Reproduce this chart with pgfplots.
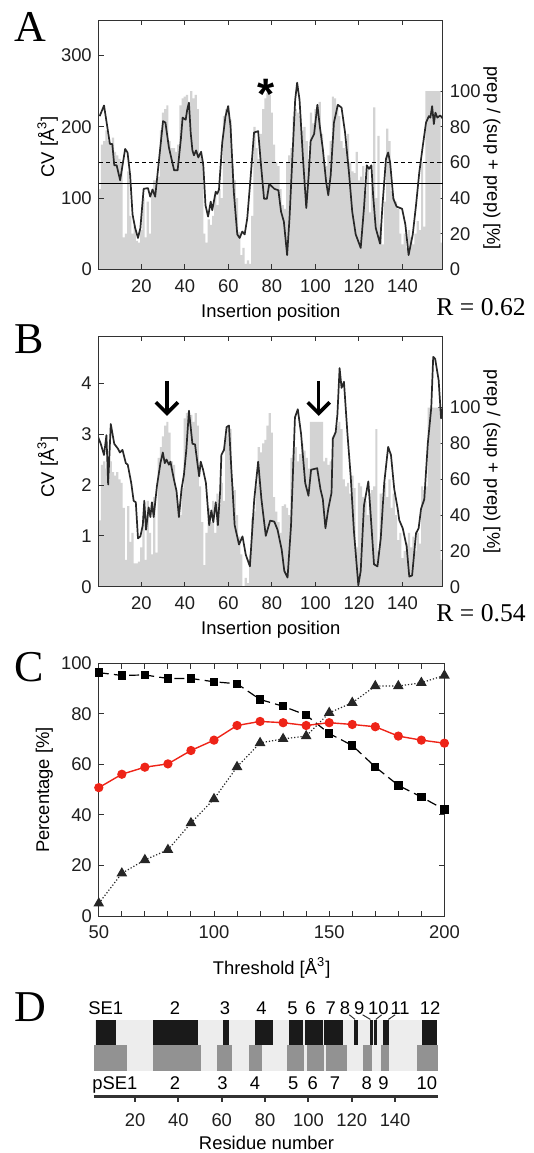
\documentclass[border=0pt]{standalone}
\usepackage{pgfplots}
\pgfplotsset{compat=1.18}
\usepackage{pgfplotstable}
\usepackage{fontspec}
\setmainfont{Liberation Sans}
\newfontfamily\timesfont{Liberation Serif}
\usetikzlibrary{arrows.meta}

\definecolor{bargray}{RGB}{211,211,211}
\definecolor{curve}{RGB}{40,40,40}
\definecolor{frame}{RGB}{50,50,50}
\definecolor{hitred}{RGB}{238,36,24}
\definecolor{segbg}{RGB}{237,237,237}
\definecolor{segdark}{RGB}{26,26,26}
\definecolor{seggray}{RGB}{146,146,146}

\newcommand\lab{\fontsize{9.2}{11}\selectfont}
\newcommand\panel{\fontsize{22}{22}\timesfont}
\newcommand\rval{\fontsize{12.8}{14}\timesfont}

% percentage bars, one value per insertion position 1..158
\pgfplotstableread[row sep=\\]{
p\\
45\\ 70\\ 72\\ 78\\ 72\\ 70\\ 74\\ 66\\ 64\\ 62\\
60\\ 18\\ 20\\ 55\\ 30\\ 20\\ 25\\ 16\\ 15\\ 22\\
40\\ 18\\ 38\\ 20\\ 45\\ 50\\ 50\\ 52\\ 78\\ 88\\
90\\ 92\\ 72\\ 68\\ 68\\ 66\\ 70\\ 92\\ 96\\ 97\\
98\\ 92\\ 100\\ 96\\ 98\\ 90\\ 64\\ 62\\ 20\\ 15\\
28\\ 25\\ 30\\ 42\\ 36\\ 45\\ 40\\ 86\\ 90\\ 92\\
84\\ 58\\ 50\\ 40\\ 21\\ 8\\ 12\\ 3\\ 5\\ 3\\
30\\ 80\\ 68\\ 62\\ 76\\ 90\\ 96\\ 99\\ 98\\ 88\\
70\\ 60\\ 58\\ 45\\ 36\\ 34\\ 60\\ 64\\ 68\\ 86\\
90\\ 88\\ 86\\ 78\\ 80\\ 72\\ 62\\ 88\\ 82\\ 90\\
92\\ 94\\ 76\\ 60\\ 58\\ 64\\ 72\\ 97\\ 96\\ 92\\
86\\ 72\\ 68\\ 70\\ 76\\ 60\\ 55\\ 54\\ 66\\ 50\\
52\\ 58\\ 44\\ 56\\ 32\\ 48\\ 91\\ 40\\ 75\\ 25\\
14\\ 38\\ 79\\ 72\\ 44\\ 40\\ 38\\ 34\\ 20\\ 14\\
20\\ 12\\ 22\\ 18\\ 14\\ 20\\ 27\\ 22\\ 60\\ 24\\
100\\ 100\\ 100\\ 100\\ 100\\ 100\\ 100\\ 15\\
}\barsA

\pgfplotstableread[row sep=\\]{
p\\
37\\ 68\\ 70\\ 66\\ 60\\ 70\\ 64\\ 62\\ 64\\ 60\\
58\\ 44\\ 15\\ 45\\ 25\\ 30\\ 13\\ 13\\ 14\\ 22\\
40\\ 15\\ 48\\ 30\\ 18\\ 50\\ 19\\ 72\\ 78\\ 84\\
90\\ 92\\ 86\\ 70\\ 68\\ 54\\ 44\\ 40\\ 55\\ 94\\
97\\ 95\\ 96\\ 92\\ 97\\ 90\\ 56\\ 36\\ 12\\ 30\\
44\\ 36\\ 48\\ 30\\ 52\\ 46\\ 58\\ 48\\ 84\\ 90\\
88\\ 56\\ 54\\ 40\\ 28\\ 18\\ 0\\ 5\\ 2\\ 18\\
38\\ 42\\ 56\\ 78\\ 75\\ 80\\ 82\\ 90\\ 97\\ 86\\
50\\ 42\\ 36\\ 30\\ 45\\ 46\\ 44\\ 40\\ 72\\ 76\\
78\\ 70\\ 74\\ 80\\ 76\\ 72\\ 66\\ 92\\ 92\\ 92\\
92\\ 92\\ 92\\ 70\\ 72\\ 68\\ 70\\ 84\\ 86\\ 90\\
92\\ 88\\ 60\\ 56\\ 58\\ 52\\ 62\\ 55\\ 22\\ 58\\
56\\ 50\\ 48\\ 40\\ 52\\ 54\\ 56\\ 88\\ 20\\ 52\\
44\\ 58\\ 50\\ 60\\ 44\\ 52\\ 40\\ 26\\ 30\\ 16\\
20\\ 24\\ 30\\ 22\\ 28\\ 20\\ 30\\ 24\\ 56\\ 54\\
56\\ 100\\ 100\\ 100\\ 100\\ 100\\ 100\\ 15\\
}\barsB

% CV profiles
\pgfplotstableread[row sep=\\]{
x y\\
0.9 215\\ 2.9 230\\ 4.8 192\\ 5.6 176\\ 6.7 176\\ 7.6 146\\ 8.7 146\\ 10.3 125\\ 12.6 169\\ 13.7 164\\
14.9 132\\ 16 77\\ 17.2 58\\ 18.5 44\\ 19.6 58\\ 21.1 113\\ 23.1 114\\ 24.1 102\\ 25.2 112\\ 26.4 102\\
27.9 146\\ 30 208\\ 31.1 206\\ 32.7 171\\ 35.1 139\\ 36.7 139\\ 38.2 183\\ 39 213\\ 40.4 210\\ 41.1 224\\
41.9 234\\ 42.7 192\\ 43.5 167\\ 44.2 160\\ 45.2 167\\ 46.2 157\\ 47.5 165\\ 48.5 146\\ 49.5 90\\ 50.7 74\\
51.9 95\\ 52.6 83\\ 54.2 109\\ 54.9 106\\ 55.7 112\\ 57.2 178\\ 58.7 215\\ 59.9 229\\ 61 201\\ 62.5 109\\
64.1 49\\ 65.2 44\\ 66.4 53\\ 67.5 49\\ 68.7 72\\ 70.3 132\\ 71.8 192\\ 73.7 194\\ 74.9 150\\ 76.4 99\\
77.7 99\\ 78.8 120\\ 81.1 113\\ 83 111\\ 84.2 81\\ 85.5 67\\ 87 20\\ 88.1 72\\ 89.6 169\\ 90.7 238\\
91.6 262\\ 92.7 238\\ 94.3 155\\ 95.8 86\\ 96.9 132\\ 97.8 180\\ 99.4 190\\ 100.9 231\\ 102 201\\ 103.4 169\\
104.9 123\\ 105.9 104\\ 107 132\\ 108.5 206\\ 110.3 231\\ 112 227\\ 113.6 192\\ 115.4 136\\ 116.9 81\\ 118.5 49\\
120.8 30\\ 122.3 86\\ 123.6 146\\ 124.6 141\\ 125.7 146\\ 126.5 104\\ 127.7 58\\ 129.7 36\\ 130.8 90\\ 132.4 155\\
133.4 164\\ 134.3 150\\ 135.8 99\\ 137.3 88\\ 139.8 85\\ 141.3 63\\ 142.8 20\\ 144.7 49\\ 146.2 90\\ 147.7 136\\
149.3 173\\ 150.8 206\\ 152.1 215\\ 152.8 213\\ 153.6 229\\ 154.4 204\\ 155.1 220\\ 156 213\\ 157.3 216\\ 158.4 212\\
}\lineA

\pgfplotstableread[row sep=\\]{
x y\\
0.2 2.94\\ 1.4 2.81\\ 2.9 2.59\\ 4 2.98\\ 4.8 2.01\\ 6 3.2\\ 7.6 2.81\\ 9.2 2.72\\ 10.2 2.64\\ 11.4 2.69\\
12.9 2.43\\ 13.8 2.40\\ 15.4 2.04\\ 16.5 1.69\\ 17.5 1.66\\ 18.5 0.95\\ 19.6 0.99\\ 20.7 1.21\\ 21.4 1.69\\ 22.2 1.12\\
23.4 1.56\\ 24.2 1.37\\ 24.9 1.66\\ 25.7 1.37\\ 27.2 1.98\\ 28.8 2.43\\ 29.9 2.64\\ 30.8 2.43\\ 31.6 2.50\\ 32.7 2.40\\
33.4 2.46\\ 35 2.11\\ 36.2 1.88\\ 37.3 1.37\\ 38.5 1.92\\ 39.6 2.20\\ 40.7 2.69\\ 41.9 3.46\\ 42.7 3.14\\ 43.5 2.81\\
44.7 2.80\\ 45.8 2.43\\ 46.6 2.17\\ 47.3 2.46\\ 48.4 2.30\\ 49.7 2.04\\ 51.2 1.21\\ 52.2 1.50\\ 53.1 1.27\\ 54.2 1.66\\
55.2 1.21\\ 56.2 1.85\\ 56.8 2.59\\ 58 2.69\\ 59.2 3.14\\ 60.3 3.17\\ 61.4 2.30\\ 62.9 1.21\\ 64.9 0.83\\ 66.5 0.99\\
68 0.63\\ 69.9 0.40\\ 71.9 1.72\\ 73.7 2.46\\ 75.2 1.72\\ 77.2 1.0\\ 79.2 1.30\\ 81.1 1.28\\ 82.6 1.12\\ 84.5 0.73\\
85.7 0.31\\ 87.2 0.18\\ 88.8 1.21\\ 90.6 3.33\\ 91.9 3.49\\ 93.4 3.01\\ 95.3 2.04\\ 96.8 1.79\\ 98 2.30\\ 100.8 2.33\\
102.3 1.92\\ 103.4 1.72\\ 104.6 1.15\\ 105.9 1.53\\ 107.4 1.85\\ 108 2.91\\ 109.3 3.04\\ 110.1 3.39\\ 111.1 4.30\\ 112 3.91\\
113.1 4.03\\ 114.7 3.01\\ 116.2 2.17\\ 117.7 1.08\\ 119.7 0.03\\ 120.8 0.31\\ 122.3 1.60\\ 124.3 2.07\\ 125.4 1.40\\ 126.9 0.44\\
128.5 0.40\\ 130 0.95\\ 131.6 2.04\\ 133.4 2.75\\ 134.7 2.59\\ 136.2 1.92\\ 137.8 1.53\\ 138.5 1.31\\ 140.1 1.15\\ 141.9 0.79\\
143.1 0.20\\ 144.4 0.22\\ 146.2 1.05\\ 147.4 1.15\\ 148.5 1.53\\ 150 1.72\\ 151.6 2.81\\ 153.2 3.52\\ 154.1 4.52\\ 155 4.48\\
156.6 4.06\\ 157.7 3.31\\ 158.4 3.5\\
}\lineB

% panel C: threshold vs percentages
\pgfplotstableread[row sep=\\]{
t sq ci tr\\
50 96.3 50.8 5.0\\
60 95.2 56.1 16.9\\
70 95.4 58.9 22.2\\
80 94.0 60.2 26.2\\
90 94.0 65.5 36.8\\
100 92.7 69.6 46.3\\
110 91.9 75.4 59.0\\
120 85.7 77.0 68.5\\
130 83.0 76.5 70.1\\
140 79.5 75.4 71.2\\
150 72.2 76.5 80.4\\
160 67.5 75.8 84.4\\
170 59.0 74.9 91.0\\
180 51.7 71.2 91.0\\
190 47.1 69.6 92.3\\
200 42.1 68.4 95.2\\
}\thresh

\pgfplotsset{
  every axis/.append style={
    scale only axis,
    /pgf/number format/assume math mode=true,
    tick label style={font=\lab, text=black!88},
    axis line style={frame, line width=0.5pt},
    tick style={frame, line width=0.5pt},
    major tick length=2.6pt,
    minor tick length=2.6pt,
    tick align=inside,
  },
}

\begin{document}
\begin{tikzpicture}
\useasboundingbox (0,0) rectangle (267pt,-576.5pt);

% ---------------- A ----------------
\begin{axis}[at={(49.4pt,-134.65pt)}, anchor=south west,
  width=172pt, height=124.65pt,
  xmin=0.5, xmax=158.5, ymin=0, ymax=140,
  xtick=\empty, ytick={0,20,...,100},
  ytick pos=right, yticklabel pos=right]
\addplot[ybar, bar width=1, fill=bargray, draw=none]
  table[x expr=\coordindex+1, y=p] {\barsA};
\end{axis}
\begin{axis}[at={(49.4pt,-134.65pt)}, anchor=south west,
  width=172pt, height=124.65pt,
  xmin=0.5, xmax=158.5, ymin=0, ymax=350,
  xtick={20,40,...,140}, xtick pos=both, xticklabel pos=bottom,
  xticklabel style={yshift=-1.5pt},
  ytick={0,100,200,300}, ytick pos=left]
\addplot[black, line width=0.55pt, dash pattern=on 2pt off 1.6pt] coordinates {(0.5,150) (158.5,150)};
\addplot[black, line width=0.55pt] coordinates {(0.5,120) (158.5,120)};
\addplot[curve, line width=0.85pt, line join=round] table[x=x, y=y] {\lineA};
\node[font=\fontsize{22}{22}\selectfont\bfseries] at (axis cs:77.3,245) {*};
\end{axis}
\node[anchor=base west, inner sep=0] at (6.8pt,-20.85pt) {\panel A};
\node[rotate=90, font=\lab] at (23.85pt,-73.35pt) {CV [Å\textsuperscript{3}]};
\node[rotate=-90, font=\lab] at (246pt,-79.15pt) {prep / (sup + prep) [\%]};
\node[anchor=base, font=\lab] at (135.4pt,-158.5pt) {Insertion position};
\node[anchor=base east, inner sep=0] at (263pt,-157.5pt) {\rval R = 0.62};

% ---------------- B ----------------
\begin{axis}[at={(49.4pt,-293.35pt)}, anchor=south west,
  width=172pt, height=125.35pt,
  xmin=0.5, xmax=158.5, ymin=0, ymax=140,
  xtick=\empty, ytick={0,20,...,100},
  ytick pos=right, yticklabel pos=right]
\addplot[ybar, bar width=1, fill=bargray, draw=none]
  table[x expr=\coordindex+1, y=p] {\barsB};
\end{axis}
\begin{axis}[at={(49.4pt,-293.35pt)}, anchor=south west,
  width=172pt, height=125.35pt,
  xmin=0.5, xmax=158.5, ymin=0, ymax=4.93,
  xtick={20,40,...,140}, xtick pos=both, xticklabel pos=bottom,
  xticklabel style={yshift=-1.5pt},
  ytick={0,1,2,3,4}, ytick pos=left]
\addplot[curve, line width=0.85pt, line join=round] table[x=x, y=y] {\lineB};
\draw[black, line width=1.8pt, -{Straight Barb[length=5.5pt, width=11pt]}] (axis cs:31.8,4.05) -- (axis cs:31.8,3.36);
\draw[black, line width=1.8pt, -{Straight Barb[length=5.5pt, width=11pt]}] (axis cs:101.5,4.05) -- (axis cs:101.5,3.36);
\end{axis}
\node[anchor=base west, inner sep=0] at (6.8pt,-176.65pt) {\panel B};
\node[rotate=90, font=\lab] at (23.85pt,-233.35pt) {CV [Å\textsuperscript{3}]};
\node[rotate=-90, font=\lab] at (246pt,-230.85pt) {prep / (sup + prep) [\%]};
\node[anchor=base, font=\lab] at (135.4pt,-317pt) {Insertion position};
\node[anchor=base east, inner sep=0] at (263pt,-310.85pt) {\rval R = 0.54};

% ---------------- C ----------------
\begin{axis}[at={(49.4pt,-458pt)}, anchor=south west,
  width=172.8pt, height=126.35pt,
  xmin=50, xmax=200, ymin=0, ymax=100,
  xtick={50,100,150,200}, minor x tick num=4,
  xticklabel style={yshift=-1.5pt},
  ytick={0,20,...,100}, clip=false]
\addplot[black, line width=0.6pt, dash pattern=on 5pt off 2.6pt,
  mark=square*, mark size=1.8pt, mark options={solid}] table[x=t, y=sq] {\thresh};
\addplot[black!85, line width=0.6pt, densely dotted,
  mark=triangle*, mark size=2.5pt, mark options={solid}] table[x=t, y=tr] {\thresh};
\addplot[hitred, line width=0.7pt,
  mark=*, mark size=1.95pt] table[x=t, y=ci] {\thresh};
\end{axis}
\node[anchor=base west, inner sep=0] at (6.8pt,-340.8pt) {\panel C};
\node[rotate=90, font=\lab] at (22.15pt,-395pt) {Percentage [\%]};
\node[anchor=base, font=\lab] at (135.8pt,-487pt) {Threshold [Å\textsuperscript{3}]};

% ---------------- D ----------------
\begin{axis}[at={(46.93pt,-548.15pt)}, anchor=south west,
  width=172.3pt, height=50pt,
  xmin=1, xmax=160, ymin=0, ymax=100,
  axis x line=bottom, hide y axis,
  axis line style={-, line width=1.4pt, frame},
  xtick={20,40,...,140}, tick align=outside,
  xticklabel style={yshift=-2.7pt},
  tick style={line width=1pt, frame}, major tick length=2.6pt,
  clip=false]
% light background strip
\addplot[fill=segbg, draw=none] coordinates {(1.5,25.3) (159.5,25.3) (159.5,76.7) (1.5,76.7)};
% SE1 elements
\addplot[fill=segdark, draw=none] coordinates {(1.85,51) (11.1,51) (11.1,76.7) (1.85,76.7)};
\addplot[fill=segdark, draw=none] coordinates {(28.4,51) (49.2,51) (49.2,76.7) (28.4,76.7)};
\addplot[fill=segdark, draw=none] coordinates {(60.7,51) (63.4,51) (63.4,76.7) (60.7,76.7)};
\addplot[fill=segdark, draw=none] coordinates {(75.4,51) (83.5,51) (83.5,76.7) (75.4,76.7)};
\addplot[fill=segdark, draw=none] coordinates {(91.2,51) (97.7,51) (97.7,76.7) (91.2,76.7)};
\addplot[fill=segdark, draw=none] coordinates {(98.4,51) (106.6,51) (106.6,76.7) (98.4,76.7)};
\addplot[fill=segdark, draw=none] coordinates {(107.3,51) (115.8,51) (115.8,76.7) (107.3,76.7)};
\addplot[fill=segdark, draw=none] coordinates {(121,51) (123,51) (123,76.7) (121,76.7)};
\addplot[fill=segdark, draw=none] coordinates {(128.4,51) (129.9,51) (129.9,76.7) (128.4,76.7)};
\addplot[fill=segdark, draw=none] coordinates {(130.4,51) (131.8,51) (131.8,76.7) (130.4,76.7)};
\addplot[fill=segdark, draw=none] coordinates {(134.6,51) (137.3,51) (137.3,76.7) (134.6,76.7)};
\addplot[fill=segdark, draw=none] coordinates {(152.6,51) (159.2,51) (159.2,76.7) (152.6,76.7)};
% pSE1 elements
\addplot[fill=seggray, draw=none] coordinates {(1.2,25.3) (16.2,25.3) (16.2,51) (1.2,51)};
\addplot[fill=seggray, draw=none] coordinates {(28.4,25.3) (50.4,25.3) (50.4,51) (28.4,51)};
\addplot[fill=seggray, draw=none] coordinates {(57.7,25.3) (64.6,25.3) (64.6,51) (57.7,51)};
\addplot[fill=seggray, draw=none] coordinates {(72.6,25.3) (78.4,25.3) (78.4,51) (72.6,51)};
\addplot[fill=seggray, draw=none] coordinates {(90,25.3) (98,25.3) (98,51) (90,51)};
\addplot[fill=seggray, draw=none] coordinates {(99.2,25.3) (107.2,25.3) (107.2,51) (99.2,51)};
\addplot[fill=seggray, draw=none] coordinates {(108,25.3) (118,25.3) (118,51) (108,51)};
\addplot[fill=seggray, draw=none] coordinates {(125,25.3) (129.2,25.3) (129.2,51) (125,51)};
\addplot[fill=seggray, draw=none] coordinates {(133.4,25.3) (137.3,25.3) (137.3,51) (133.4,51)};
\addplot[fill=seggray, draw=none] coordinates {(150.3,25.3) (159.6,25.3) (159.6,51) (150.3,51)};
% leader lines for the narrow elements
\addplot[frame, line width=0.5pt] coordinates {(118.9,81.5) (121.5,76.9)};
\addplot[frame, line width=0.5pt] coordinates {(125,81.5) (128.6,76.9)};
\addplot[frame, line width=0.5pt] coordinates {(133.8,81.5) (131.1,76.9)};
\addplot[frame, line width=0.5pt] coordinates {(140,81.5) (136.9,76.9)};
% element labels
\begin{scope}[every node/.style={font=\lab, anchor=base, inner sep=0}]
\node[anchor=base west] at (axis cs:-1.7,81.8) {SE1};
\node at (axis cs:38.4,81.8) {2};
\node at (axis cs:61.5,81.8) {3};
\node at (axis cs:78.4,81.8) {4};
\node at (axis cs:92.6,81.8) {5};
\node at (axis cs:101,81.8) {6};
\node at (axis cs:110.3,81.8) {7};
\node at (axis cs:116.9,81.8) {8};
\node at (axis cs:123.5,81.8) {9};
\node at (axis cs:132.3,81.8) {10};
\node at (axis cs:142.3,81.8) {11};
\node at (axis cs:156.1,81.8) {12};
\node[anchor=base west] at (axis cs:0.15,6.8) {pSE1};
\node at (axis cs:38.4,6.8) {2};
\node at (axis cs:60.3,6.8) {3};
\node at (axis cs:75.4,6.8) {4};
\node at (axis cs:93,6.8) {5};
\node at (axis cs:102,6.8) {6};
\node at (axis cs:112.3,6.8) {7};
\node at (axis cs:126.9,6.8) {8};
\node at (axis cs:134.6,6.8) {9};
\node at (axis cs:154.6,6.8) {10};
\end{scope}
\end{axis}
\node[anchor=base west, inner sep=0] at (6.8pt,-510.85pt) {\panel D};
\node[anchor=base, font=\lab] at (133.25pt,-574.5pt) {Residue number};
\end{tikzpicture}
\end{document}
